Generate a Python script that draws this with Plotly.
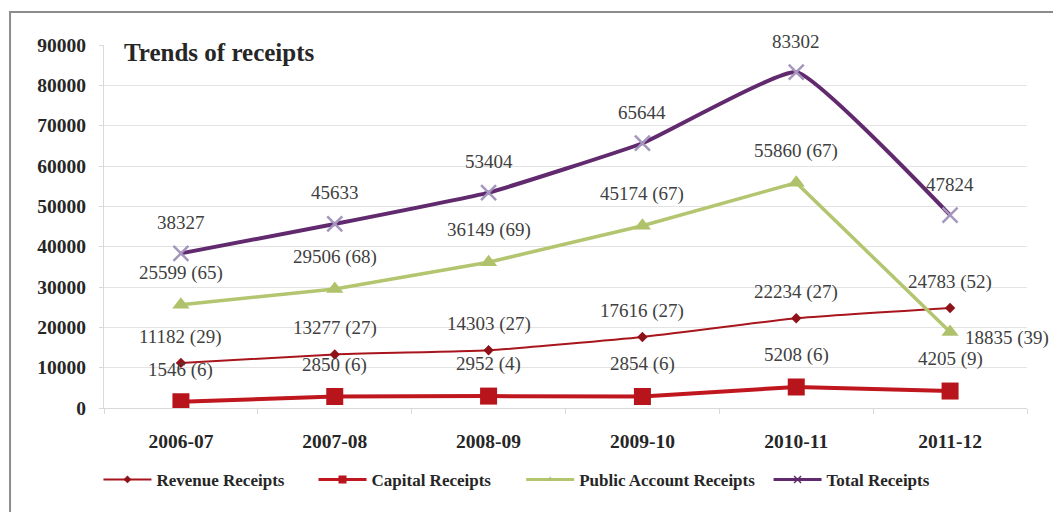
import plotly.graph_objects as go

# Receipts by year (values in crore) with share of total in brackets
years = ["2006-07", "2007-08", "2008-09", "2009-10", "2010-11", "2011-12"]
revenue = [11182, 13277, 14303, 17616, 22234, 24783]
revenue_pct = [29, 27, 27, 27, 27, 52]
capital = [1546, 2850, 2952, 2854, 5208, 4205]
capital_pct = [6, 6, 4, 6, 6, 9]
public = [25599, 29506, 36149, 45174, 55860, 18835]
public_pct = [65, 68, 69, 67, 67, 39]
total = [38327, 45633, 53404, 65644, 83302, 47824]

SERIF = "Liberation Serif"
LABEL_COLOR = "#404040"
TEXT_DARK = "#262626"

# name, values, line style, marker style, legend marker size, legend id, legend x
series = [
    ("Revenue Receipts", revenue,
     dict(color="#A8151C", width=2, shape="spline", smoothing=0.4),
     dict(symbol="diamond", size=8, color="#8E1218"), 6, "legend", -0.006),
    ("Capital Receipts", capital,
     dict(color="#C0161E", width=4),
     dict(symbol="square", size=17, color="#B8141C"), 8, "legend2", 0.227),
    ("Public Account Receipts", public,
     dict(color="#B3C56F", width=3.5),
     dict(symbol="triangle-up", size=15, color="#AFC16A"), 6, "legend3", 0.452),
    ("Total Receipts", total,
     dict(color="#612A6E", width=4, shape="spline", smoothing=0.35),
     dict(symbol="x-thin", size=15, color="#A596BE",
          line=dict(color="#A596BE", width=2.5)), 7, "legend4", 0.720),
]

fig = go.Figure()
legend_layout = {}
for name, vals, line, marker, lsize, leg, lx in series:
    fig.add_trace(go.Scatter(
        x=years, y=vals, name=name, mode="lines+markers",
        line=line, marker=marker, showlegend=False,
    ))
    # legend entry with a small symbol, drawn as its own legend
    lline = dict(color=line["color"], width=min(line["width"], 3))
    lmarker = dict(marker)
    lmarker["size"] = lsize
    if "line" in lmarker:
        lmarker["line"] = dict(color=line["color"], width=1.5)
        lmarker["color"] = line["color"]
    fig.add_trace(go.Scatter(
        x=[years[0]], y=[None], name=name, mode="lines+markers",
        line=lline, marker=lmarker, showlegend=True, legend=leg,
    ))
    legend_layout[leg] = dict(
        orientation="h", x=lx, xanchor="left", y=-0.198, yanchor="middle",
        itemwidth=48, bgcolor="rgba(0,0,0,0)",
        font=dict(family=SERIF, size=17, color=TEXT_DARK, weight="bold"),
    )

annotations = []
label_font = dict(family=SERIF, size=19, color=LABEL_COLOR)


def add_labels(values, texts, yshift, last=None):
    for i, (yr, v, t) in enumerate(zip(years, values, texts)):
        a = dict(x=yr, y=v, text=t, showarrow=False, font=label_font,
                 yshift=yshift)
        if last is not None and i == len(values) - 1:
            a.update(last)
        annotations.append(a)


add_labels(total, [str(v) for v in total], 31)
add_labels(public, [f"{v} ({p})" for v, p in zip(public, public_pct)], 32,
           last=dict(xanchor="left", xshift=13, yshift=-6))
add_labels(revenue, [f"{v} ({p})" for v, p in zip(revenue, revenue_pct)], 26)
add_labels(capital, [f"{v} ({p})" for v, p in zip(capital, capital_pct)], 32)

annotations.append(dict(
    x=0.019, y=0.978, xref="paper", yref="paper", xanchor="left",
    yanchor="middle", showarrow=False, text="<b>Trends of receipts</b>",
    font=dict(family=SERIF, size=25, color=TEXT_DARK),
))

fig.update_layout(
    width=1053, height=512,
    margin=dict(l=104, r=26, t=45, b=104),
    paper_bgcolor="white", plot_bgcolor="white",
    font=dict(family=SERIF, color=TEXT_DARK),
    annotations=annotations,
    showlegend=True,
    shapes=[dict(
        type="rect", xref="paper", yref="paper",
        x0=-0.1018, x1=1.2, y0=-0.4, y1=1.0909,
        line=dict(color="#8C8C8C", width=2), layer="below",
    )],
    **legend_layout,
)

fig.update_xaxes(
    type="category", range=[-0.5, 5.5], showgrid=False, showline=True,
    linecolor="#D9D9D9", linewidth=1, ticks="outside", tickson="boundaries",
    ticklen=5, tickcolor="#D9D9D9", ticklabelstandoff=16,
    tickfont=dict(family=SERIF, size=19.5, color=TEXT_DARK, weight="bold"),
)
fig.update_yaxes(
    range=[0, 90000], dtick=10000, tickformat="d", showgrid=True,
    gridcolor="#E3E3E3", gridwidth=1, zeroline=True, zerolinecolor="#D9D9D9",
    showline=True, linecolor="#D9D9D9", ticks="outside", ticklen=4,
    tickcolor="#D9D9D9", ticklabelstandoff=9,
    tickfont=dict(family=SERIF, size=19.5, color=TEXT_DARK, weight="bold"),
)

fig.write_html("out.html")
